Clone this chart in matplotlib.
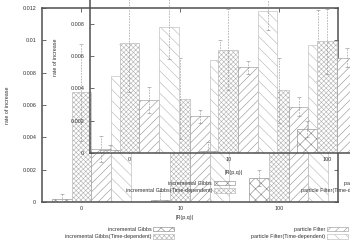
import matplotlib
matplotlib.use('Agg')
import matplotlib.pyplot as plt
import numpy as np
from matplotlib.patches import Patch

plt.rcParams['font.family'] = ['Liberation Sans', 'DejaVu Sans']
plt.rcParams['hatch.linewidth'] = 0.4

# ---- data ----
categories = ['0', '10', '100']
series = ['incremental Gibbs', 'incremental Gibbs(Time-dependent)',
          'particle Filter', 'particle Filter(Time-dependent)']
gibbs = [0.0002, 0.00015, 0.0015]
gibbs_err = [0.0003, 0.0005, 0.0005]
gibbs_td = [0.0068, 0.0064, 0.0069]
gibbs_td_err = [0.003, 0.0025, 0.002]
pf = [0.0033, 0.0053, 0.0059]
pf_err = [0.0008, 0.0004, 0.0006]
pf_td = [0.0078, 0.0088, 0.0097]
pf_td_err = [0.002, 0.0012, 0.0022]
yticks = [0, 0.002, 0.004, 0.006, 0.008, 0.01, 0.012]
ytick_labels = ['0', '0.002', '0.004', '0.006', '0.008', '0.01', '0.012']

values = [gibbs, gibbs_td, pf, pf_td]
errors = [gibbs_err, gibbs_td_err, pf_err, pf_td_err]

# ---- styles ----
hatches = ['xxx', 'xxxxxxx', '////', '\\\\\\']
hcolors = ['#808080', '#b0b0b0', '#909090', '#b4b4b4']
FS = 3.9
W, H = 350.0, 245.0

fig = plt.figure(figsize=(3.5, 2.45), dpi=100)
fig.patch.set_facecolor('white')


def rect(left, top, right, bottom):
    return [left / W, 1 - bottom / H, (right - left) / W, (bottom - top) / H]


def draw(ax, labels):
    n = len(categories)
    base = np.arange(n) * 5.0
    for j in range(4):
        x = base + (j - 1)
        ax.bar(x, values[j], width=1.0, facecolor='white', edgecolor=hcolors[j],
               hatch=hatches[j], linewidth=0.4, zorder=2)
        eb = ax.errorbar(x, values[j], yerr=errors[j], fmt='none', ecolor='#8a8a8a',
                         elinewidth=0.4, capsize=1.3, capthick=0.4, zorder=3)
        for lc in eb[2]:
            lc.set_linestyle((0, (3, 2)))
    ax.set_xlim(-2, 13)
    ax.set_ylim(0, 0.012)
    ax.set_xticks(base)
    ax.set_xticklabels(categories)
    ax.set_yticks(yticks)
    ax.set_yticklabels(labels)
    for s in ax.spines.values():
        s.set_color('#505050')
        s.set_linewidth(1.1)
    ax.tick_params(direction='in', length=3, width=0.5, top=True, right=True,
                   labelsize=FS, colors='#303030')
    ax.tick_params(axis='y', pad=4.2)
    ax.tick_params(axis='x', pad=2.6)


# outer chart
ax1 = fig.add_axes(rect(42, 8, 338, 202))
ax1.set_facecolor('white')
draw(ax1, ytick_labels)
ax1.text(0.48, -0.082, '|R(p,q)|', transform=ax1.transAxes, ha='center', va='center',
         fontsize=FS, color='#303030')
ax1.text(-0.118, 0.5, 'rate of increase', transform=ax1.transAxes, rotation=90,
         ha='center', va='center', fontsize=FS, color='#303030')

# inner (overlapping) chart, its top lies beyond the picture
ax2 = fig.add_axes(rect(90, -41, 386, 153))
ax2.patch.set_visible(False)
ax2.set_zorder(2)
draw(ax2, ytick_labels[:5] + ['', ''])
ax2.text(0.486, -0.098, '|R(p,q)|', transform=ax2.transAxes, ha='center', va='center',
         fontsize=FS, color='#303030')
ax2.text(-0.115, 0.495, 'rate of increase', transform=ax2.transAxes, rotation=90,
         ha='center', va='center', fontsize=FS, color='#303030')

handles = [Patch(facecolor='white', edgecolor=hcolors[j], hatch=hatches[j], linewidth=0.4)
           for j in range(4)]


def add_legend(idx, xr, yc):
    leg = fig.legend([handles[i] for i in idx], [series[i] for i in idx],
                     loc='center right', bbox_to_anchor=(xr / W, 1 - yc / H),
                     frameon=False, markerfirst=False, fontsize=FS,
                     handlelength=3.8, handleheight=1.0, handletextpad=0.4,
                     labelspacing=0.45, borderpad=0, borderaxespad=0)
    for t in leg.get_texts():
        t.set_color('#303030')
    return leg


add_legend([0, 1], 174, 233)
add_legend([2, 3], 348, 233)
l3 = add_legend([0, 1], 235, 187)
l4 = add_legend([2, 3], 398, 187)
l3.set_zorder(6)
l4.set_zorder(6)

fig.savefig('out.png', dpi=100, facecolor='white')
